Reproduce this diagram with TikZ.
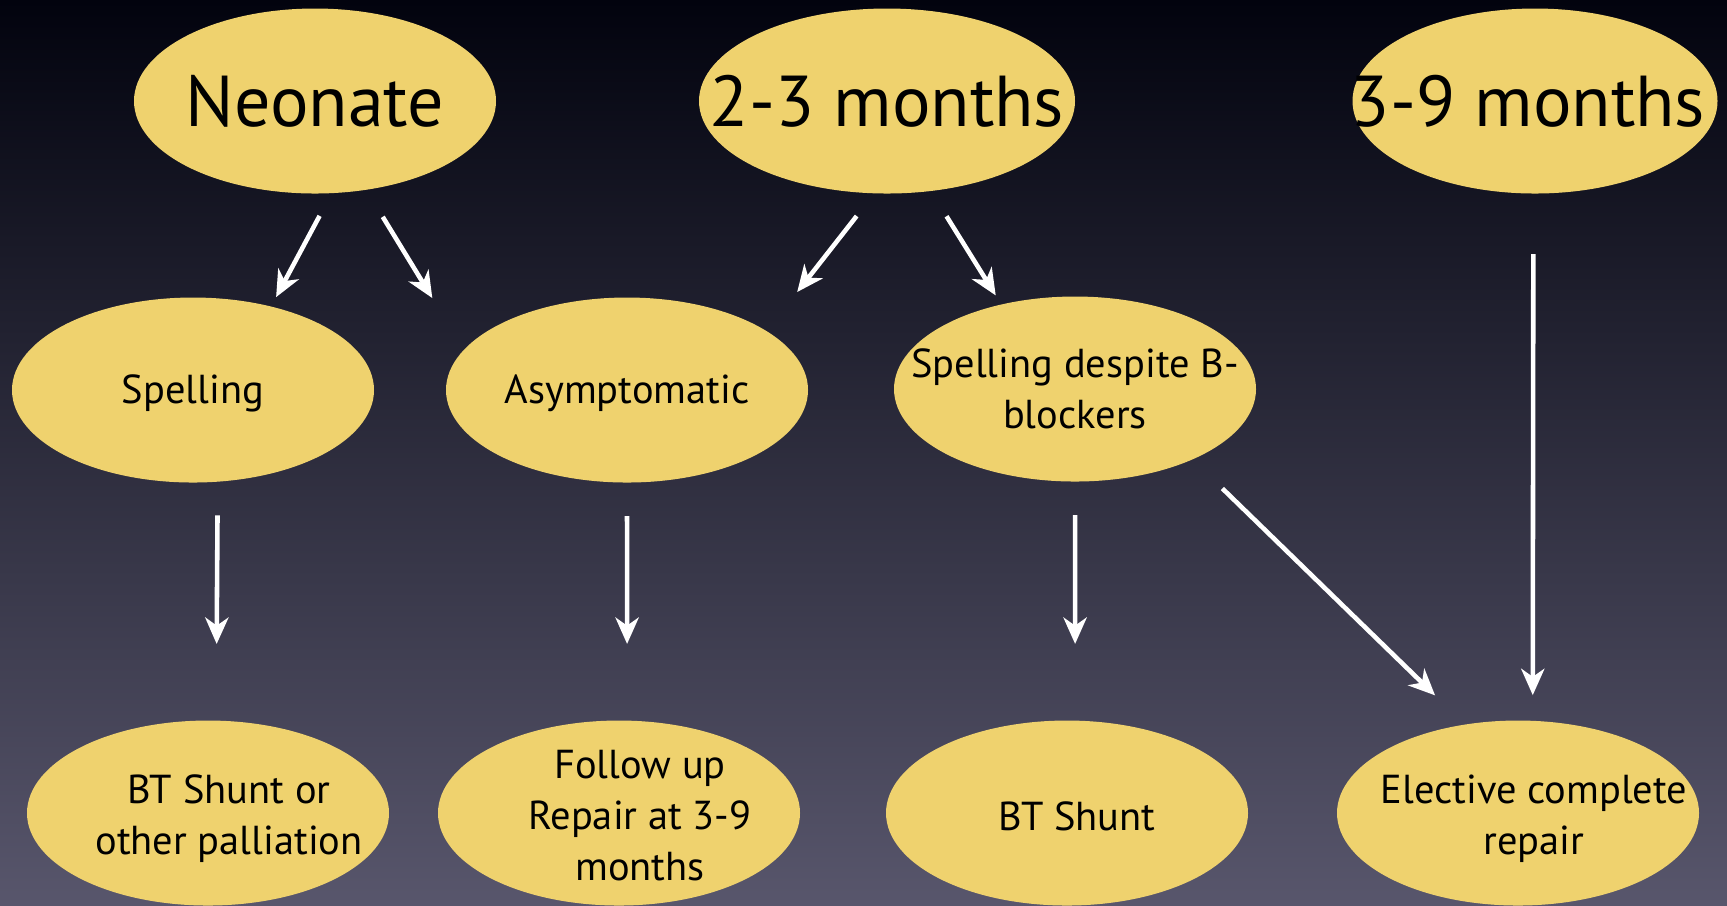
\documentclass[tikz,border=0pt]{standalone}
\usepackage{fontspec}
\setmainfont{PT Sans}
\usetikzlibrary{shapes.geometric,arrows.meta}

\definecolor{bgTop}{RGB}{2,3,14}
\definecolor{bgMid}{RGB}{36,38,62}
\definecolor{bgBot}{RGB}{88,86,108}
\definecolor{stageColor}{RGB}{239,210,110}

\tikzset{
  stage/.style={ellipse, fill=stageColor, inner sep=0pt,
    minimum width=3.62cm, minimum height=1.85cm},
  ageText/.style={font=\fontsize{20.5}{24}\selectfont},
  stepText/.style={font=\fontsize{11.5}{14.5}\selectfont, align=center},
  arr/.style={draw=white, line width=1.3pt,
    -{Stealth[length=7.5pt,width=6.6pt,inset=2.3pt]}}
}

\begin{document}
\begin{tikzpicture}
  \useasboundingbox (0,0) rectangle (17.27,-9.05);
  \clip (0,0) rectangle (17.27,-9.05);
  \shade[top color=bgTop, middle color=bgMid, bottom color=bgBot] (0,0) rectangle (17.27,-9.05);
  % Ages
  \node[stage, label={[ageText]center:Neonate}] (neo) at (3.15,-1.01) {};
  \node[stage, minimum width=3.76cm, label={[ageText]center:2-3 months}] (twothree) at (8.87,-1.01) {};
  \node[stage, minimum width=3.65cm, label={[ageText, xshift=-0.07cm]center:3-9 months}] (threenine) at (15.35,-1.01) {};
  % Findings
  \node[stage, label={[stepText, yshift=-0.03cm]center:Spelling}] (spell) at (1.93,-3.90) {};
  \node[stage, label={[stepText, yshift=-0.03cm]center:Asymptomatic}] (asym) at (6.27,-3.90) {};
  \node[stage, label={[stepText]center:{Spelling despite B-\\blockers}}] (despite) at (10.75,-3.89) {};
  % Treatment
  \node[stage, label={[stepText, xshift=0.21cm, yshift=-0.06cm]center:{BT Shunt or\\other palliation}}] (btor) at (2.08,-8.13) {};
  \node[stage, label={[stepText, xshift=0.21cm, yshift=-0.03cm]center:{Follow up\\Repair at 3-9\\months}}] (follow) at (6.19,-8.13) {};
  \node[stage, label={[stepText, xshift=0.1cm, yshift=-0.03cm]center:BT Shunt}] (btshunt) at (10.67,-8.13) {};
  \node[stage, label={[stepText, xshift=0.16cm, yshift=-0.06cm]center:{Elective complete\\repair}}] (elective) at (15.18,-8.13) {};
  % Arrows
  \draw[arr, shorten <=0.25cm, shorten >=0.10cm] (neo.-80) -- (spell.47);
  \draw[arr, shorten <=0.31cm, shorten >=0.60cm] (neo.-60) -- (asym.166);
  \draw[arr, shorten <=0.28cm, shorten >=0.49cm] (twothree.-98) -- (asym.23);
  \draw[arr, shorten <=0.29cm, shorten >=0.10cm] (twothree.-64) -- (despite.131);
  \draw[arr, shorten <=0.60cm, shorten >=0.25cm] (threenine.-91) -- (elective.81);
  \draw[arr, shorten <=0.33cm, shorten >=0.76cm] (spell.-75) -- (btor.85);
  \draw[arr, shorten <=0.33cm, shorten >=0.76cm] (asym.south) -- (follow.85);
  \draw[arr, shorten <=0.33cm, shorten >=0.76cm] (despite.south) -- (btshunt.85);
  \draw[arr, shorten <=0.41cm, shorten >=0.41cm] (despite.-31) -- (elective.121);
\end{tikzpicture}
\end{document}
